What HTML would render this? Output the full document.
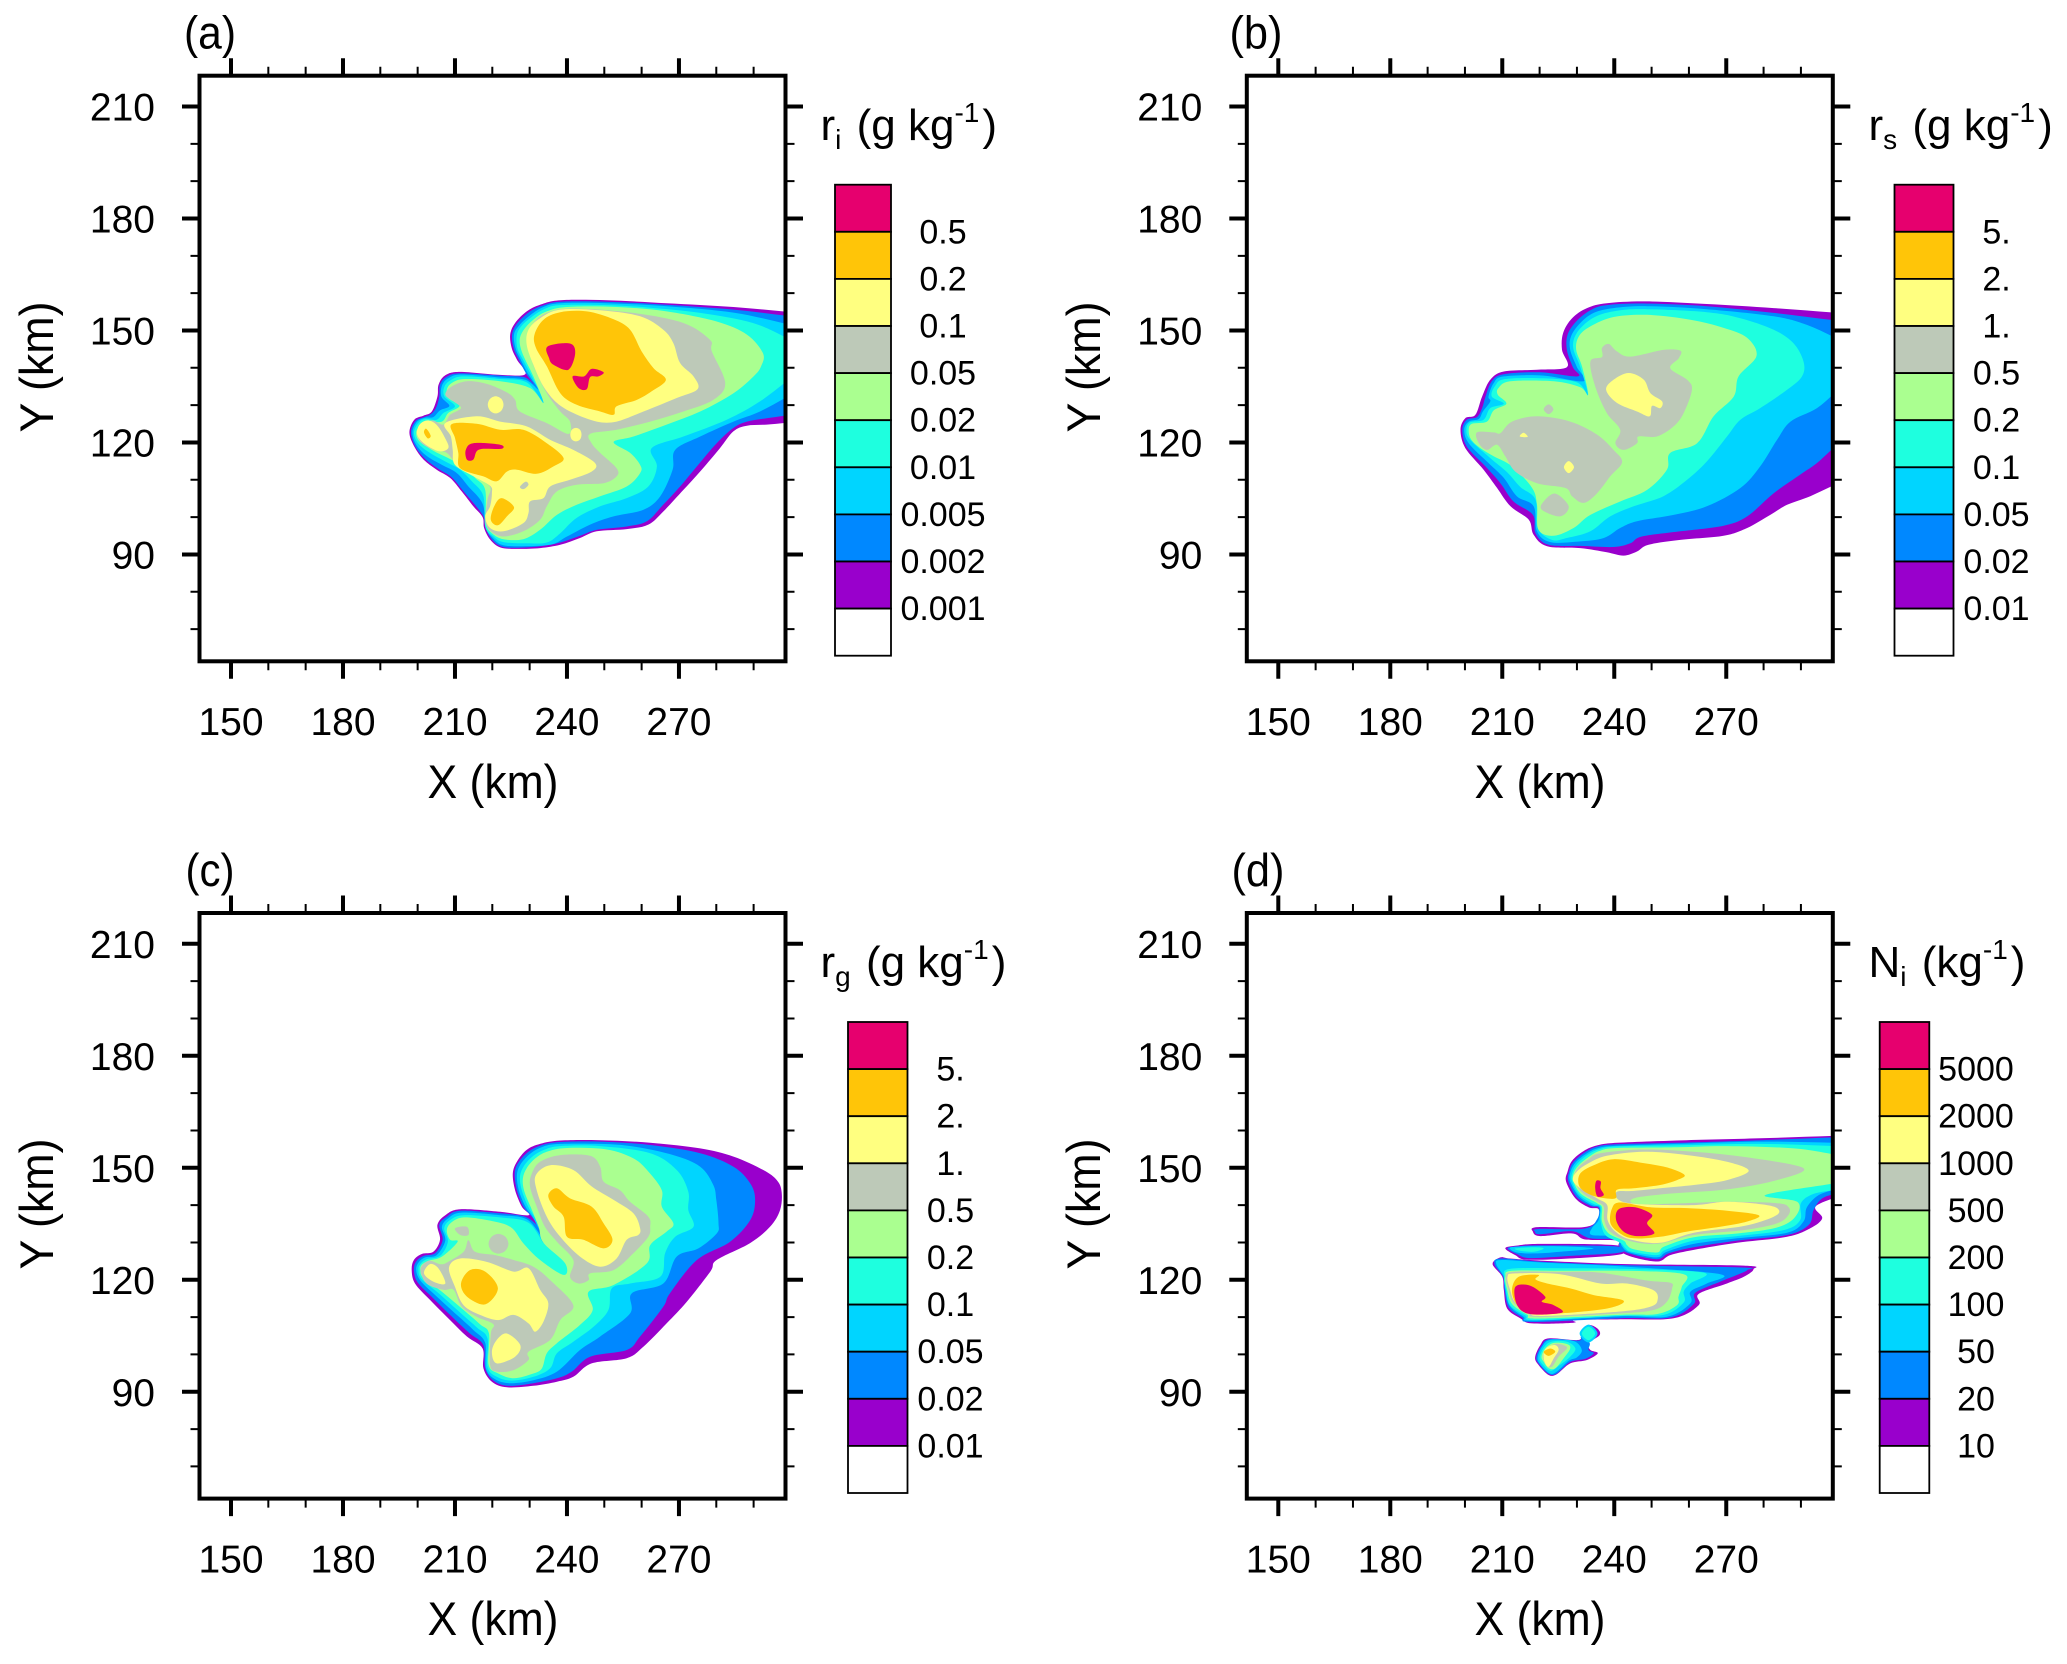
<!DOCTYPE html>
<html lang="en">
<head>
<meta charset="utf-8">
<title>Hydrometeor contour panels</title>
<style>
html,body{margin:0;padding:0;background:#fff;}
svg{display:block;}
text{font-family:"Liberation Sans",Arial,sans-serif;fill:#000;}
</style>
</head>
<body>
<svg id="figure" xmlns="http://www.w3.org/2000/svg" width="2067" height="1664" viewBox="0 0 2067 1664">
<rect width="2067" height="1664" fill="#fff"/>
<defs>
<clipPath id="clip-a"><rect x="199.5" y="75.7" width="586" height="585.6"/></clipPath>
<clipPath id="clip-b"><rect x="1246.8" y="75.7" width="586" height="585.6"/></clipPath>
<clipPath id="clip-c"><rect x="199.5" y="913" width="586" height="585.6"/></clipPath>
<clipPath id="clip-d"><rect x="1246.8" y="913" width="586" height="585.6"/></clipPath>
</defs>

<g id="panel-a"></g>
<g id="panel-b"></g>
<g id="panel-c"></g>
<g id="panel-d"></g>

<text x="210" y="48.3" font-size="46" text-anchor="middle" textLength="52" lengthAdjust="spacingAndGlyphs">(a)</text>
<text x="1256" y="48.3" font-size="46" text-anchor="middle" textLength="53" lengthAdjust="spacingAndGlyphs">(b)</text>
<text x="210" y="886" font-size="46" text-anchor="middle" textLength="49" lengthAdjust="spacingAndGlyphs">(c)</text>
<text x="1258" y="886" font-size="46" text-anchor="middle" textLength="53" lengthAdjust="spacingAndGlyphs">(d)</text>

<text x="493" y="798" font-size="47" text-anchor="middle" textLength="131" lengthAdjust="spacingAndGlyphs">X (km)</text>
<text x="1540" y="798" font-size="47" text-anchor="middle" textLength="131" lengthAdjust="spacingAndGlyphs">X (km)</text>
<text x="493" y="1635" font-size="47" text-anchor="middle" textLength="131" lengthAdjust="spacingAndGlyphs">X (km)</text>
<text x="1540" y="1635" font-size="47" text-anchor="middle" textLength="131" lengthAdjust="spacingAndGlyphs">X (km)</text>

<text transform="translate(53,367) rotate(-90)" font-size="47" text-anchor="middle" textLength="131" lengthAdjust="spacingAndGlyphs">Y (km)</text>
<text transform="translate(1100,367) rotate(-90)" font-size="47" text-anchor="middle" textLength="131" lengthAdjust="spacingAndGlyphs">Y (km)</text>
<text transform="translate(53,1204) rotate(-90)" font-size="47" text-anchor="middle" textLength="131" lengthAdjust="spacingAndGlyphs">Y (km)</text>
<text transform="translate(1100,1204) rotate(-90)" font-size="47" text-anchor="middle" textLength="131" lengthAdjust="spacingAndGlyphs">Y (km)</text>

<text x="820.5" y="140" font-size="44">r<tspan dy="9" font-size="28">i</tspan><tspan dy="-9" dx="3"> (g kg</tspan><tspan dy="-18" font-size="28">-1</tspan><tspan dy="18" dx="3">)</tspan></text>
<text x="1868.5" y="140" font-size="44">r<tspan dy="9" font-size="28">s</tspan><tspan dy="-9" dx="3"> (g kg</tspan><tspan dy="-18" font-size="28">-1</tspan><tspan dy="18" dx="3">)</tspan></text>
<text x="820.5" y="977" font-size="44">r<tspan dy="9" font-size="28">g</tspan><tspan dy="-9" dx="3"> (g kg</tspan><tspan dy="-18" font-size="28">-1</tspan><tspan dy="18" dx="3">)</tspan></text>
<text x="1868.5" y="977" font-size="44">N<tspan dy="9" font-size="28">i</tspan><tspan dy="-9" dx="3"> (kg</tspan><tspan dy="-18" font-size="28">-1</tspan><tspan dy="18" dx="3">)</tspan></text>
</svg>

<script>
// ---------- axis values ----------
const xMajorTicks=[150,180,210,240,270];
const xMinorTicks=[160,170,190,200,220,230,250,260,280,290];
const yMajorTicks=[90,120,150,180,210];
const yMinorTicks=[70,80,100,110,130,140,160,170,190,200];

// ---------- colorbar labels ----------
const legendLabelsA=["0.5","0.2","0.1","0.05","0.02","0.01","0.005","0.002","0.001"];
const legendLabelsB=["5.","2.","1.","0.5","0.2","0.1","0.05","0.02","0.01"];
const legendLabelsC=["5.","2.","1.","0.5","0.2","0.1","0.05","0.02","0.01"];
const legendLabelsD=["5000","2000","1000","500","200","100","50","20","10"];

// ---------- contour outlines, digitised in km as x,y pairs (lowest level first) ----------
const aLevel1=[[300,154.9,284.6,156.3,266.7,157.3,250.7,158.1,238.2,158.1,232.8,156.9,229.2,155.1,226.1,152,224.8,148.9,225.2,145.3,226.6,142.2,228.8,138.3,222.1,138.1,211.4,138.9,207.4,138,205.6,135.5,205.3,132.3,203.8,128.3,201.6,127.2,199.1,126.1,197.8,122.7,199.1,118.9,201.6,115.4,205.1,112.7,208.7,110.5,211.8,106.9,214.9,102.9,217.4,100,217.8,97.1,219.4,94,222.1,91.9,226.1,91.5,232.8,91.7,238.2,92.6,243.5,94.4,248,96.2,256,96.8,261.8,98,265.8,101.5,271.2,107.3,276.1,112.7,281,118.5,284.6,123,288.2,124.5,293.5,124.8,300,125.4]];
const aLevel2=[[300,153.8,284.6,155.6,266.7,156.9,250.7,157.7,238.2,157.7,233.3,156.6,229.7,154.8,226.6,151.8,225.3,148.9,225.7,145.3,227.1,142.2,229.2,138.2,231,135.7,228.5,137.5,222.1,137.9,211.4,138.5,207.8,137.6,206,135.5,205.8,132.3,204.9,129.2,203.3,127.4,201.7,126.8,199.4,125.7,198.2,122.7,199.4,118.9,202,115.6,205.6,112.9,209.1,110.7,212.3,106.9,217.4,100.6,218.2,97.1,219.8,94.1,222.3,92.2,226.1,91.8,232.8,92.2,238.2,93.2,243.5,95,248,96.6,256,97.5,261.4,98.9,265.4,102.9,270.3,108.2,274.8,113.6,280.1,119.8,284.6,123.9,288.2,125.6,293.5,126.5,300,127.4]];
const aLevel3=[[300,151.5,284.6,154.8,266.7,156.5,250.7,157.3,238.2,157.3,233.7,156.3,230.3,154.2,227.3,151.5,225.8,148.9,226.2,145.3,227.6,142.2,229.7,138.2,232.4,134.1,228.8,136.8,222.1,137.4,211.8,138.2,208.2,137.2,206.5,135.2,206.4,132.2,208.5,129.8,206,128.6,204.2,126.8,202,126.6,199.8,125.5,198.6,122.7,199.6,119.4,202.4,116.4,206.5,114,210.5,111.8,213.6,108.2,217.4,103.6,218.3,97.1,220.1,94.4,222.5,92.6,226.6,92.2,235.5,92.6,240,94.8,246.2,98,252.5,100.2,260.5,102,265,105.6,268.3,112.7,269,118,275.7,121.6,284.6,125.6,291.7,128.3,300,132.8]];
const aLevel4=[[300,147.5,289.8,152,275.7,154.7,262.3,156.1,250.7,156.8,238.2,156.8,234.1,155.8,230.8,153.8,227.9,151.3,226.6,148.9,226.7,145.3,228.2,142.2,230.6,137.7,233.9,130.4,229.2,136.1,222.1,137,212.3,137.7,208.7,136.6,207.1,134.8,207.2,132.3,210,129.7,206.9,127.9,205.1,126.1,202,126.3,200.2,125.2,199,122.7,200.1,119.8,203.3,117.2,207.4,114.9,211.4,112.7,214.5,109.6,217.6,105.6,218.1,97.5,220.3,94.8,223,93.3,229.2,93,234.6,93.2,238.2,95.7,242.6,99.8,248.9,102.9,256,105.1,261.8,108.2,264.1,113.6,262.7,118.5,271.2,121.6,282.8,126.1,291.7,131,300,137.3]];
const aLevel5=[[292.5,143.9,288.2,148.9,280.1,152.4,266.7,155.1,253.3,156.3,240,156.3,234.6,155.1,231.5,153.3,228.8,150.7,227.4,148,227.6,145.3,228.8,142.2,231,137.7,233.7,130.6,230.1,134.6,222.1,136.4,212.7,137,209.1,135.9,207.8,134.1,208.2,131.9,211.2,129.8,208.2,127.9,206.5,125.6,202.4,125.6,200.7,124.6,199.6,122.7,200.5,120.3,204.2,117.8,208.2,115.8,212.3,113.6,215.4,110.5,218.1,107.3,218.3,98.4,219.9,95.7,223,94.1,228.3,94.1,232.8,96.6,237.3,100.6,242.6,103.3,248.9,105.6,256,108.2,259.6,111.8,259.6,114,256.9,117.2,252.5,120.1,257.8,121.6,266.7,124.8,275.7,128.3,284.6,133.2,290,137.7,292,140.4]];
const aLevel6=[[282.4,135.9,278.8,144.4,278.3,147.5,271.2,152,257.8,154.7,241.7,155.9,234.6,154.7,231,152,229.5,148.9,229.7,144.8,231.5,139.5,234.6,133.2,238.2,128.3,240.8,125.6,240.4,122.3,234.6,125.2,227.4,128.3,226.1,131.4,223.9,133.4,218.5,135.7,213.2,136.4,209.1,135,207.4,132.8,209.6,131,211.6,129.2,208.7,127.4,206.9,124.8,203.8,125.9,200.7,124.3,199.9,122.5,201.1,119.8,204.2,118.1,207.8,117.2,210.9,113.6,215.4,110.9,219.4,108.1,218.7,104.7,218.1,98.9,219.6,96.2,223,94.8,228.3,96.2,232.8,99.3,234.6,102.9,237.3,106.9,242.6,108.7,249.8,109.1,253.3,110.9,253.3,113.1,248.9,117.2,246.6,119.8,246.2,122.3,253.3,123.4,262.3,125.6,271.2,128.3,279.2,131.4]];
const aLevel7=[[275,134.3,273.9,137.7,270.3,141.3,268.5,146.6,265.8,150.2,259.6,153.8,248.9,155.4,238.2,155.6,232.8,153.3,229.7,150.2,229.2,146.2,231,140.8,233.7,135,237.3,130.6,241.7,127.9,248,125.6,253.3,125.6,260.5,128.3,269.4,131.9],[207.4,125.2,215.8,127,222.1,125.6,229.2,124.3,235.5,120.7,241.7,118,247.5,114.5,246.6,112.2,240.8,110,235.5,108.2,233.7,105.1,230.1,104.2,229.7,101.1,228.3,98.4,223,96.2,219.4,97.1,218.1,100.2,219.4,102.9,219.9,106.4,219.4,108.4,215,110.9,210,114,209.4,118,208.9,121.6],[199.8,122.7,200.7,125,202.9,125.9,205.3,124.5,207.6,120.7,208.2,118.5,206,117.6,202.9,118.9,200.7,120.7],[218.8,130.1,219.4,131.7,220.9,132.4,222.4,131.7,223,130.1,222.4,128.5,220.9,127.8,219.4,128.5],[240.9,122.1,241.3,123.4,242.4,123.9,243.5,123.4,243.9,122.1,243.5,120.8,242.4,120.3,241.3,120.8]];
const aLevel8=[[266.5,136.8,263.2,139.9,260,144.4,256.9,150.2,252.5,153,245.3,155.1,238.2,154.9,233.7,152.9,231.3,148.9,231.7,145.3,234.6,140.4,238.2,133.2,242.6,130.1,248.9,128.3,252.5,127.4,253.3,129.7,258.7,131.4,262.7,133.7],[209.1,124.9,215.8,125,222.1,123.4,228.3,123.4,234.6,119.8,239.1,115.8,236.4,113.6,231.9,111.6,226.6,112.7,223.9,112.2,221.2,109.6,217.6,110.9,211.4,113.1,210.9,117.2,210,121.2],[222.5,105.1,225.8,102.7,223.9,100.2,221.5,97.8,219.6,99.3,220.5,102.9],[202.3,123.7,203.5,121.8,202.7,121.1,201.7,122.7]];
const aLevel9=[[234.8,145.7,240.8,146.5,242.2,143.9,240.4,139.5,236.4,140.8,235.2,142.6],[241.5,137.7,244.6,137.7,246.6,139.7,249.8,138.8,248.4,137.7,246.2,137.5,245.3,134.3,243.1,134.6],[212.9,118,214.9,119.8,222.1,119.4,222.5,118.3,217.6,118.3,215.8,117.6,214.9,115.4,213.2,115.4]];
const aGrayIslands=[[227.4,108.1,228.9,109.5,229.7,108.7,228.4,107.5]];

const bLevel1=[[300,154.7,282.7,156,264.8,157.1,248.8,157.8,238,157.3,232.7,156,228.7,153.3,226.3,149.3,226,144.8,227.3,140.2,219.3,139.5,210.4,139,206.8,136.8,204.6,132.3,202.8,127.4,200.1,126.5,198.8,123.4,200.1,118.5,205,112.7,208.6,107.8,212.2,102.9,217.1,99.3,218.4,95.3,222,92.2,230.9,91.7,238,90.6,242.5,89.7,246.1,90.8,249.2,92.6,257.7,93.9,269.3,95,275.6,97.1,281.8,100.6,286.3,103.3,292.5,105.6,300,109.1]];
const bLevel2=[[300,152.6,282.7,154.7,264.8,156.5,248.8,157.2,238,156.8,233.6,155.4,229.8,152.4,227.5,148.9,227.3,144.8,228.9,140.2,230.2,137.7,220.2,138.8,210.4,138.3,207.2,136.4,205.5,132.3,204.6,129.2,203.2,126.8,200.5,126.1,199.3,123.4,200.5,118.9,205.5,113.6,209.5,109.1,213,104.2,218.2,100.6,218.9,95.7,222.4,92.6,230.9,92.3,239.8,92,244.3,93,247.4,94.8,257.7,96.2,269.3,97.7,275.6,100.2,282.7,106.4,289.8,111.4,294.3,114.5,300,119.8]];
const bLevel3=[[300,147.7,291.6,151.5,282.7,153.8,264.8,155.7,248.8,156.5,239.8,156,234.5,154.7,230.9,152,228.4,148.4,228.2,144.8,230,140.2,231.8,136.4,221.1,137.9,210.4,137.7,207.7,135.9,206.3,132.3,206.8,131,204.8,128.3,203.7,126.3,201,125.6,199.8,123.4,201,119.8,206.3,114.5,210.4,110.5,213.9,105.6,218.4,102.9,219.3,96.2,222.9,93.3,230.9,93.5,237.2,94.4,241.6,97.1,246.1,98.9,255.9,100.6,264.8,102.9,273.8,107.8,279.1,113.6,283.6,120.7,287.2,125.6,294.3,129.2,300,134.1]];
const bLevel4=[[290.7,141.7,288,146.6,282.7,150.2,273.8,153.3,264.8,154.9,248.8,155.7,241.6,155.4,235.4,153.9,231.4,151.1,229.3,148,229.1,144.8,230.9,140.2,232.9,132.8,230,136.1,221.1,137.2,210.8,137,208.1,135.2,207.2,132.3,210.4,130.4,206.8,129.2,205,126.1,201.4,125.4,200.4,123.4,201.4,120.7,206.8,115.8,211.3,112,214.8,108.1,218.9,104.7,219.5,97.1,223.3,93.9,227.3,94.4,233.6,96.2,238.9,100.2,245.2,102.9,253.2,105.6,259.5,110,264.8,114.9,270.2,121.6,273.8,126.1,279.1,129.2,286.3,134.1,290.3,137.7]];
const bLevel5=[[278.1,143.2,275.6,148,269.3,150.7,260.4,152.9,248.8,154.2,239.8,153.6,233.6,151.1,230.5,148.4,229.8,144.8,231.4,140.2,233,132.8,230.9,134.8,223.8,136.4,212.2,136.4,209,134.6,208.8,132.8,211.1,130.4,207.7,128.6,205.9,125.6,201.9,125,201,123.4,201.6,120.9,204.1,118.5,207.7,116.3,212.6,113.6,218,107.8,219.3,103.3,219.7,96.6,223.8,95,229.1,97.1,233.6,100.6,241.6,104.2,248.8,107.3,254.1,112.7,255,117.2,262.2,119.8,266.6,127,272,132.3,273.3,137.7]];
const bLevel6=[[257.7,144.6,253.2,144.8,244.3,143,240.7,144.4,238.5,146.4,236.7,145.3,236.7,142.9,233.6,141.7,234.9,135,238,127.9,241.6,123.4,240.3,119.8,242.5,118,246.1,119.8,246.5,121.6,251.4,121.6,255.9,124.3,258.6,127.9,260.8,134.1,259.5,136.8,255,139.9,257.3,142.6],[203.2,122.7,207.7,122.7,209.5,122.5,212.6,125.6,219.3,127,228.2,125.6,235.4,122.1,239.8,118,242.1,114.7,238.9,110.9,235.4,106.4,231.8,103.8,228.7,105.6,226.9,107.8,219.3,109.1,213.5,112.2,210.8,116.3,208.6,119.4,205.9,118,203.7,119.8],[224.2,106.3,227.8,102.9,225.5,100.2,220.6,102,221.1,104.2],[221.1,128.9,222.4,130.2,223.7,128.9,222.4,127.6]];
const bLevel7=[[243.9,138.6,247.9,136.8,249.7,133.2,252.8,131,252.3,129.2,250.1,129.8,249.5,127,246.1,128.3,240.7,130.6,237.8,134.1,239.8,136.8],[226.5,113.4,227.8,115,229.2,113.4,227.8,111.8],[214.7,121.6,215.7,122.6,216.8,121.5]];
const bLevel8=[];
const bLevel9=[];

const cLevel1=[[297.5,143.6,296.2,146.7,292.6,149.4,284.6,153,275.7,155.2,262.3,156.7,248.9,157.4,238.2,157.3,232.8,156.4,229.2,154.8,226.6,151.6,225.5,148.5,226.1,144,227.9,139.6,229.7,137.3,222.1,138.2,211.4,138.9,207.4,137.3,205.3,134.7,206,130.7,204.2,127.5,201.1,126.9,199,125.3,198.4,122.6,199.3,119,203.3,114.6,208.7,109.2,213.2,104.8,217.4,101.6,217.6,96.3,219.9,92.7,223.9,91.2,231,91.6,237.3,92.7,241.7,94,246.6,97.6,256,99,260.5,102.1,266.7,108.3,272.1,114.1,278.4,122.2,280.1,125.3,289,129.8,294.4,134.2,297.1,138.7]];
const cLevel2=[[290.4,141.4,289.1,145.8,284.6,150.3,275.7,153.9,262.3,156.1,248.9,157,238.2,156.9,233.3,156.1,229.7,154.3,227,151.4,226,148.5,226.6,144,228.3,139.6,230.6,136.9,232.4,134.4,228.8,136.9,222.1,137.8,211.4,138.5,207.8,136.9,205.8,134.7,206.7,130.7,204.7,127.1,201.6,126.4,199.6,124.9,199,122.6,200,119.3,204.2,115,209.6,109.7,214,105.6,217.6,102.5,218.1,96.3,220.3,93,224.3,91.6,231,92.3,237.3,93.6,241.3,95.4,246.2,99.4,256,101.2,259.6,104.8,265.8,112.8,267.6,116.4,274.8,125.3,283.7,130.2,289.1,136]];
const cLevel3=[[280.6,135.1,280,141.4,279.2,145.4,275.7,150.3,268.5,153.4,257.8,155.7,248.9,156.4,238.2,156.4,233.7,155.7,230.3,153.9,227.6,151,226.6,148.1,227.1,144,228.9,139.6,231,136.5,233.3,131.5,229.2,136.2,222.1,137.3,211.8,138,208.2,136.5,206.5,134.2,207.4,130.5,205.1,126.6,202,126,200.2,124.6,199.6,122.6,200.7,119.8,204.7,115.9,210.5,110.6,215,106.5,218.1,103.1,218.3,96.3,220.8,93.3,224.8,92.3,231,93.1,237.3,95.4,243.5,101.2,248.9,104.8,256.9,111,257.4,116.4,265.8,119,269.4,126.2,275.2,128.4,280.1,132.4]];
const cLevel4=[[273.9,134.2,272.5,138.7,272.5,143.6,269.4,149.4,262.3,153.9,248.9,155.8,238.2,155.8,234.1,154.9,231,153.2,228.5,150.5,227.4,147.6,227.9,144,229.7,139.4,231.9,135.6,233.7,129.9,229.7,135.3,222.1,136.7,212.3,137.3,208.7,136,207.1,133.8,208.1,130.2,206,126.4,202.4,125.5,200.7,124.2,200.2,122.6,201.1,120.1,205.6,116.4,211.4,111.2,215.8,107.3,218.7,104.3,218.7,96.7,221.2,94,225.2,93,231,94,235.5,96.3,237.3,100.3,241.7,103.4,247.1,107.4,251.1,111.9,252,117.7,256.9,119,265,120.8,266.3,127.1,269,131.5]];
const cLevel5=[[268.5,135.1,265.4,139.6,265.4,144,261.8,149,257.8,152.5,250.7,154.9,240,155.3,234.6,154.3,231.5,152.5,229.2,149.9,228.2,147.2,228.5,144,230.3,139.4,232.4,134.2,233.7,129.9,239.5,124.4,239.1,121.3,232.8,125.3,228.3,129.8,224.8,134.2,218.5,136,212.3,136.7,209.1,135.4,207.8,133.3,208.7,130.7,210.7,130.2,206.5,126.2,202.9,125.1,201.1,124,200.7,122.6,201.6,120.4,206.5,116.8,212.3,111.9,216.7,108.1,219.1,105.6,219,97.2,221.6,94.9,225.7,93.6,231,94.9,233.3,96.3,234.6,100.3,237.3,103,243.5,107.9,246.9,111.9,245.8,116.8,252.5,118.6,261.4,124.4,262.3,129.3,266.7,132.9]];
const cLevel6=[[262.3,134.2,261.8,136.9,256.9,140.9,254.2,144,249.8,146.3,248.9,150.3,246.2,153.2,238.2,153.4,232.8,151.6,230.6,148.5,230.1,145,231.9,139.6,234.1,134.2,237.3,130.2,241.7,125.3,240.8,120.8,243.1,119,245.8,119.9,246.2,121.7,252.5,122.6,257.8,127.1,261.8,131.5],[200.8,122.8,202.9,125.1,206,124.2,207.8,124.6,212.3,127.5,213.6,130.6,215.4,127.5,220.8,126.6,225.7,125.3,231,123.5,235.5,119.9,241.7,113.2,238.2,109.2,235.5,103.9,229.7,100.7,229.7,98.5,225.7,95.8,221.2,95.4,219.4,97.2,219.6,105.6,220.3,108.1,215.8,110.1,211.8,112.8,209.6,117.3,206.9,117.3,202.4,119],[210,133.8,213.2,134.2,213.6,132,211.4,132],[219,129.6,219.8,131.5,221.6,132.3,223.5,131.5,224.3,129.6,223.5,127.8,221.6,127,219.8,127.8]];
const cLevel7=[[259.6,133.8,257.8,137.8,252.5,141.4,246.6,145,241.7,149.4,235.5,150.7,231.7,148.1,231.9,144,234.6,136.9,238.2,131.5,243.5,126.2,248.9,123.5,253.3,125.7,256,130.7,259.1,132],[208.4,123.3,211.4,125.7,218.5,124.8,225.7,122.2,229.7,123.1,232.8,117.3,235,113.7,233.7,108.8,231.5,106.1,229.7,108.3,225.7,110.6,221.6,109.2,216.7,110.6,212.3,113.2,210,118.1],[223.9,105.6,227.5,102.5,226.1,99.4,221.2,97.6,219.9,100.7,221.2,103.9],[203.3,124.2,205.6,123,207.4,119,204.2,119.5,201.7,121.7]];
const cLevel8=[[235,142.7,237.3,144.5,240.8,141.8,246.6,139.6,249.8,135.1,252.2,130.7,249.8,128.4,244.4,130.7,240,131.5,239.1,136.9,236.4,139.6],[211.6,119,214,122.6,218.1,122.2,221.5,117.7,218.1,113.4,213.2,115.5]];
const cLevel9=[];

const dLevel1=[[300,158.6,279.1,157.9,256.8,157.3,240.7,156.7,235.4,156,231.8,154.5,228.7,151.9,227.5,149,227.1,146.3,229.6,141.8,233.1,139.4,235.8,138.9,235.5,136,231.8,134.1,219.3,134.1,218.2,132.9,220.2,131.7,228.7,132.4,232.2,130.8,240.7,130.5,241.2,129,243.4,126.6,251.4,124.9,255,126.6,261.3,128,272.9,129.9,286.3,131.5,292.5,133.8,295.7,136.5,293.9,139.6,300,142.4],[210.8,128.4,213.5,129.1,220.2,129.6,240.7,129.2,242.1,126.9,228.2,125.7,216.6,125.4,213.5,126.6],[207.4,124.2,209.5,126,212.1,125.7,221.1,125.1,243.4,124.2,274.7,123.8,277.3,122.8,274.7,120.8,270.2,119,262.6,116.2,262.6,113.2,255.9,109.7,241.6,109.4,229.6,109.2,229.1,108.5,218,108.3,214.8,109.7,211.3,112.3,210.4,117.3,210,120.8],[218.8,99.2,220.2,102.5,222.4,104.3,230.5,103.9,230.9,106.1,233.1,107.9,235.4,107,236.1,105.2,233.1,103,233.6,101.2,235.6,100.3,232.7,98.5,228.2,97.6,224.6,94.7,222.4,94.5,219.7,97.2]];
const dLevel2=[[300,158.2,279.1,157.4,256.8,156.7,240.7,156.3,235.5,155.7,232.2,154.2,229.1,151.6,227.9,149,227.7,146.3,230,142.1,233.6,139.8,235.8,139.3,235.4,136.2,232,133.7,219.7,133.6,218.8,132.9,220.2,132.2,228.7,133,233.6,131.1,240.7,130.8,241.4,129,243.8,127.1,251.4,125.5,254.6,127.1,261.3,128.7,272.9,130.5,286.3,132,292.1,134.7,293.4,138.7,295.7,141.8,300,143.3],[211.4,128.4,213.9,128.9,220.2,129.2,240.7,128.9,241.6,127.3,228.2,126.4,217.5,125.8,213.9,126.9],[207.9,124.2,209.7,125.7,221.1,124.8,243.4,123.9,274.2,123.3,275.6,122.6,272.9,121.3,268.4,119.5,261.7,116.5,261.3,113.5,255,109.9,241.6,109.7,218,108.7,215.3,109.9,211.7,112.6,210.6,117.3,210.2,120.8],[219.1,99.2,220.5,102.3,222.7,104.1,230.5,103.7,231.1,104.7,233.4,103.1,233.1,101.2,234.5,100.3,232.2,98.8,228.2,98,224.6,94.9,222.4,94.8,220,97.2]];
const dLevel3=[[300,156.7,279.1,157,256.8,156.4,240.7,155.9,235.8,155.3,232.7,153.9,229.6,151.4,228.2,148.7,228.2,146.3,230.5,142.4,234,140,236.1,139.4,235.8,136,234,133.8,234,132,240.7,131.5,242.1,128.9,244.3,127.3,251.4,126,254.1,127.5,261.3,129.6,272.9,131.1,286.3,132.6,290.7,135.6,291.6,139.4,294.8,142.7,300,144.5],[212,128.4,214.4,128.9,225.5,129,234.5,128.4,225.5,127.5,220.2,127.1,214.4,127.2],[208.4,124.2,209.9,125.3,221.1,124.6,243.4,123.5,268.4,121.5,264.8,119,260.4,116.8,260.4,113.7,254.1,110.1,241.6,110.2,218.4,109,215.7,110.1,212,113,210.8,117.3,210.4,120.8],[230.7,105.6,233.1,108,235.5,105.6,233.1,103.2],[219.5,99.2,220.7,102.1,222.9,103.9,229.1,103.6,231.3,101.2,230,99.2,227.8,98.3,224.6,95.4,222.7,94.9,220.2,97.3]];
const dLevel4=[[300,155.8,279.1,156.4,256.8,156,240.7,155.7,236.1,155,233.1,153.6,230,151,228.7,148.5,228.7,146.3,230.7,142.7,234.5,140.3,236.3,139.6,236.3,136,237.6,132,241.6,129.9,243,128.4,244.7,127.5,251.4,126.6,253.7,128,261.3,130.5,272.9,131.7,285.4,133.3,289.8,136,290,140.5,293.4,143,300,144.2],[213.5,128.4,218.4,128.7,221.1,128.4,218.4,127.5,214.8,127.8],[210.5,120.8,212.1,122.9,225.5,123.1,243.4,122.9,264,121.9,260.4,119,258.6,116.8,258.6,113.9,253.2,110.6,241.6,110.3,218.9,109.2,216.2,110.4,212.1,113.2,211,117.3],[231.3,105.6,233.1,107.4,234.9,105.6,233.1,103.8],[220,99.2,221.1,101.8,223.1,103.4,227.3,103.4,229.6,101.6,228.2,99.4,225.5,97.2,222.9,95.6,220.6,97.6]];
const dLevel5=[[300,153.4,288.1,155.2,270.2,155.8,256.8,155.5,240.7,155.3,236.3,154.6,233.6,153.2,230.5,150.7,229.1,148.5,229.1,146.3,231.1,143,235.4,140.5,236.7,139.4,236.7,135.6,238.5,132.4,242.5,130.5,243.4,129.3,245.2,128.2,251.4,127.3,253.4,128.9,261.3,131.4,272.9,132.4,283.6,134,288.5,136.9,289,140.9,280.5,142.7,300,146],[210.8,120.8,212.6,122.4,225.5,122.4,243.4,122.4,258.6,121.5,258.1,118.1,257.2,115.5,256.8,113.2,251.4,110.8,241.6,110.6,219.3,109.6,216.6,110.7,212.6,113.5,211.3,117.3],[220.5,99.4,221.5,101.6,223.8,103.1,227.3,102.8,228.2,101.6,226.4,98.9,224.2,96.3,222.4,96.3,221.1,98]];
const dLevel6=[[290.7,149.9,275.5,152.8,261.3,154.3,247.9,154.9,236.3,153.9,233.1,152.3,230.5,150.3,229.3,148.1,229.6,145.8,231.8,143,235.8,140.7,237.2,139.4,237.3,136,238.9,132.9,243.4,130.6,251.4,129.6,261.3,132,274.7,133.3,283.6,135.1,286.7,137.4,286.7,139.4,283.6,140.5,270.2,140.9,258.6,140.5,246.1,140.3,245.2,141.8,254.1,143,270.2,144.2,283.6,146.7],[211,120.8,213,122.1,225.5,122.1,236.3,121.9,248.8,119.8,255,119.2,255.5,117.7,254.1,114.1,250.5,111.9,241.6,111,219.7,110,217.1,111.2,213.1,113.7,211.7,117.3],[220.9,99.4,221.8,101.4,224.2,102.8,226.4,102.5,227.3,101.6,225.1,99.4,223.3,96.7,221.8,97.2]];
const dLevel7=[[276,149.2,270.2,151.6,259.5,153.4,247.9,154.3,238,153.2,233.1,151.2,230,149,228.9,146.7,230.9,144.5,235.4,141.8,238.1,140,238.2,136,240.3,132.9,244.3,130.8,252.3,129.9,261.3,132.6,274.7,134.4,282.7,136.9,284.1,138.7,280.9,140,270.2,140.9,261.3,140,246.1,140.3,241.2,141.4,240.7,143.6,245.2,143.8,252.3,144.5,261.3,145.4,270.2,146.7],[211.4,120.8,213.5,121.7,225.5,121.5,236.3,119,243.4,119,250.5,117.2,251.6,114.6,249.7,112.8,241.6,111.5,220.2,110.3,217.5,111.5,213.5,113.9,212.1,117.3],[221.1,100.3,222,101.9,224.2,102.5,225.1,101.2,223.8,99,222.4,96.7,221.3,98.1]];
const dLevel8=[[258.8,148.1,254.1,150.1,247,151.4,239.8,152.3,234.5,150.7,230.9,148.5,230.5,145.4,232.5,143.3,235.8,142.1,240.3,141.8,240.7,144.1,245.2,144.5,252.3,145.4,256.8,146.7],[278.7,137.3,270.2,138.5,259.5,139.2,249.7,139.4,241.6,140.7,239.4,139.1,239,135.1,241.6,132.4,245.2,131.1,252.3,131.5,259.5,132.9,268.4,134.2,275.6,135.6],[214.4,120.8,219.7,121.3,218.9,120.1,222,119,228.2,117.7,234.5,115.9,242.5,114.4,238.1,112.3,225.5,111,218,111,214,113.2,212.6,117.3],[221.1,100.7,222.9,101.6,224.2,100.7,222.4,99.6]];
const dLevel9=[[235.2,146.5,236.4,146.3,236.3,144.5,237.2,142.7,235.5,142.3,234.9,144.5],[241.2,138.9,245.6,139.4,250.1,137.4,248.8,135.1,250.7,132.4,246.1,131.7,242.5,132.9,240.5,136],[213.5,118.1,217.5,118.4,221.5,115.5,220.6,114.1,223.8,113.2,226,111.2,217.5,110.8,214,113.2]];

const panelALevels=[aLevel1,aLevel2,aLevel3,aLevel4,aLevel5,aLevel6,aLevel7,aLevel8,aLevel9];
const panelBLevels=[bLevel1,bLevel2,bLevel3,bLevel4,bLevel5,bLevel6,bLevel7,bLevel8,bLevel9];
const panelCLevels=[cLevel1,cLevel2,cLevel3,cLevel4,cLevel5,cLevel6,cLevel7,cLevel8,cLevel9];
const panelDLevels=[dLevel1,dLevel2,dLevel3,dLevel4,dLevel5,dLevel6,dLevel7,dLevel8,dLevel9];

// ---------- styling ----------
const levelColors=['#9900CC','#0088FF','#00D5FF','#1EFFDF','#AAFF90','#BDC9B8','#FFFF80','#FFC508','#E6006E'];
const levelNames=['purple','blue','cyan','aqua','green','gray','yellow','orange','magenta'];

const SVGNS='http://www.w3.org/2000/svg';
const frameW=586, frameH=585.6, kmPx=3.733, domainEdgeKm=299.9;

function xScale(km,ox){return ox+231+(km-150)*kmPx;}
function yScale(km,oy){return oy+106.5+(210-km)*kmPx;}

function make(tag,props,parent){
  const el=document.createElementNS(SVGNS,tag);
  for(const k in props){el.setAttribute(k,props[k]);}
  parent.appendChild(el);
  return el;
}

// Closed smooth outline. The run along the domain's right edge stays straight, so it cannot bulge.
function smoothPath(flat,ox,oy){
  const p=[],edge=[];
  for(let i=0;i<flat.length;i+=2){
    p.push([xScale(flat[i],ox),yScale(flat[i+1],oy)]);
    edge.push(flat[i]>=domainEdgeKm);
  }
  const n=p.length;
  if(n<3){return '';}
  function tangent(i){
    const prev=(i-1+n)%n,next=(i+1)%n;
    if(edge[i]&&edge[next]){return [p[i][0]-p[prev][0],p[i][1]-p[prev][1]];}
    if(edge[i]&&edge[prev]){return [p[next][0]-p[i][0],p[next][1]-p[i][1]];}
    return [(p[next][0]-p[prev][0])/2,(p[next][1]-p[prev][1])/2];
  }
  let d='M'+p[0][0].toFixed(1)+' '+p[0][1].toFixed(1);
  for(let i=0;i<n;i++){
    const j=(i+1)%n,b=p[i],c=p[j];
    if(edge[i]&&edge[j]){
      d+='L'+c[0].toFixed(1)+' '+c[1].toFixed(1);
      continue;
    }
    const t0=tangent(i),t1=tangent(j);
    d+='C'+(b[0]+t0[0]/3).toFixed(1)+' '+(b[1]+t0[1]/3).toFixed(1)+' '+(c[0]-t1[0]/3).toFixed(1)+' '+(c[1]-t1[1]/3).toFixed(1)+' '+c[0].toFixed(1)+' '+c[1].toFixed(1);
  }
  return d+'Z';
}

function drawPanel(id,ox,oy,levels,islands,labels,barLeft,barWidth,labelX){
  const root=document.getElementById('panel-'+id);
  const left=199.5+ox, top=75.7+oy, right=left+frameW, bottom=top+frameH;

  const field=make('g',{'clip-path':'url(#clip-'+id+')'},root);
  
  
  levels.forEach(function(polys,li){
    polys.forEach(function(flat,pi){
      const path=make('path',{d:smoothPath(flat,ox,oy),fill:levelColors[li]},field);
      
      
    });
  });
  islands.forEach(function(flat){
    const path=make('path',{d:smoothPath(flat,ox,oy),fill:levelColors[5]},field);
    
    
  });

  xMajorTicks.forEach(function(v){
    const x=xScale(v,ox);
    const t=make('path',{d:'M'+x+' '+(top-17.5)+'V'+top+'M'+x+' '+bottom+'V'+(bottom+17.5),stroke:'#000','stroke-width':4,fill:'none'},root);
    
    
    const l=make('text',{x:x,y:735+oy,'font-size':39,'text-anchor':'middle'},root);
    l.textContent=String(v);
    
    
  });
  xMinorTicks.forEach(function(v){
    const x=xScale(v,ox);
    const t=make('path',{d:'M'+x+' '+(top-9)+'V'+top+'M'+x+' '+bottom+'V'+(bottom+9),stroke:'#000','stroke-width':2,fill:'none'},root);
    
    
  });
  yMajorTicks.forEach(function(v){
    const y=yScale(v,oy);
    const t=make('path',{d:'M'+(left-17.5)+' '+y+'H'+left+'M'+right+' '+y+'H'+(right+17.5),stroke:'#000','stroke-width':4,fill:'none'},root);
    
    
    const l=make('text',{x:155+ox,y:y+14,'font-size':39,'text-anchor':'end'},root);
    l.textContent=String(v);
    
    
  });
  yMinorTicks.forEach(function(v){
    const y=yScale(v,oy);
    const t=make('path',{d:'M'+(left-9)+' '+y+'H'+left+'M'+right+' '+y+'H'+(right+9),stroke:'#000','stroke-width':2,fill:'none'},root);
    
    
  });

  const frame=make('rect',{x:left,y:top,width:frameW,height:frameH,fill:'none',stroke:'#000','stroke-width':4},root);
  
  

  // colorbar: top box is the highest level, bottom box is white
  const barTop=184.7+oy, boxH=47.1, n=levelColors.length;
  const bar=make('g',{},root);
  
  
  for(let i=0;i<=n;i++){
    const color=i<n?levelColors[n-1-i]:'#FFFFFF';
    const box=make('rect',{x:barLeft,y:barTop+i*boxH,width:barWidth,height:boxH,fill:color,stroke:'#000','stroke-width':1.8},bar);
    
    
  }
  labels.forEach(function(txt,i){
    const l=make('text',{x:labelX,y:barTop+(i+1)*boxH+11.5,'font-size':34,'text-anchor':'middle'},bar);
    l.textContent=txt;
    
    
  });
}

drawPanel('a',0,0,panelALevels,aGrayIslands,legendLabelsA,835,56,943);
drawPanel('b',1047.3,0,panelBLevels,[],legendLabelsB,1894.5,59,1996.5);
drawPanel('c',0,837.3,panelCLevels,[],legendLabelsC,848,59.5,950.5);
drawPanel('d',1047.3,837.3,panelDLevels,[],legendLabelsD,1879.7,49.6,1976);
</script>
</body>
</html>
